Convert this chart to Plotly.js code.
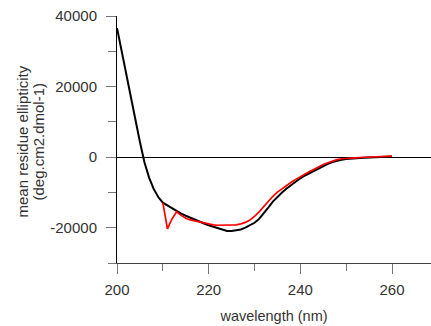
<!DOCTYPE html>
<html>
<head>
<meta charset="utf-8">
<script src="https://cdn.plot.ly/plotly-3.0.1.min.js"></script>
<style>html,body{margin:0;padding:0;background:#fff;}#chart{width:431px;height:326px;}</style>
</head>
<body>
<div id="chart"></div>
<script>
var wlBlack = [200,201,202,203,204,205,206,207,208,209,210,211,212,213,214,215,216,217,218,219,220,221,222,223,224,225,226,227,228,229,230,231,232,233,234,235,236,237,238,239,240,241,242,243,244,245,246,247,248,249,250,251,252,253,254,255,256,257,258,259,260];
var mreBlack = [36600,30000,23500,17200,10500,4300,-1500,-5800,-9000,-11300,-12900,-13700,-14600,-15300,-16000,-16600,-17200,-17700,-18300,-18800,-19300,-19700,-20200,-20600,-20900,-20900,-20800,-20500,-20000,-19400,-18600,-17500,-16000,-14300,-12600,-11200,-10000,-8900,-7900,-6900,-6000,-5200,-4500,-3800,-3100,-2500,-1900,-1400,-1000,-750,-550,-400,-300,-250,-200,-150,-100,-50,0,50,150];
var wlRed = [210,211,212,213,214,215,216,217,218,219,220,221,222,223,224,225,226,227,228,229,230,231,232,233,234,235,236,237,238,239,240,241,242,243,244,245,246,247,248,249,250,251,252,253,254,255,256,257,258,259,260];
var mreRed = [-12900,-20300,-17500,-15500,-16500,-17300,-17800,-18100,-18400,-18700,-19000,-19200,-19300,-19300,-19300,-19300,-19200,-18900,-18500,-17800,-16800,-15500,-14000,-12500,-11100,-9900,-8900,-8000,-7100,-6300,-5500,-4800,-4100,-3400,-2700,-2100,-1600,-1100,-700,-450,-300,-250,-200,-100,-50,0,50,100,150,200,300];

var xTickVals = [200,220,240,260];
var xTickText = ['200','220','240','260'];
var xMinorVals = [210,230,250];
var yTickVals = [-20000,0,20000,40000];
var yTickText = ['-20000','0','20000','40000'];
var yMinorVals = [-30000,-10000,10000,30000];
var yTitleLines = ['mean residue ellipticity', '(deg.cm2.dmol-1)'];

var fam = 'Liberation Sans, Arial, sans-serif';
var tickFont = {family: fam, size: 15, color: '#333'};
var titleFont = {family: fam, size: 14.5, color: '#333'};
var yTitleFont = {family: fam, size: 15, color: '#333'};

var traces = [
  {x: wlBlack, y: mreBlack, type: 'scatter', mode: 'lines', line: {color: '#000', width: 2}, hoverinfo: 'none'},
  {x: wlRed, y: mreRed, type: 'scatter', mode: 'lines', line: {color: '#ff0000', width: 1.7}, hoverinfo: 'none'}
];

var layout = {
  width: 431, height: 326,
  margin: {l: 117, r: 0, t: 16, b: 63},
  paper_bgcolor: '#fff', plot_bgcolor: '#fff',
  showlegend: false,
  font: tickFont,
  xaxis: {
    range: [200, 268.5], showgrid: false, zeroline: false,
    showline: true, linecolor: '#444', linewidth: 1,
    ticks: 'outside', ticklen: 10, tickcolor: '#777', tickwidth: 1,
    tickmode: 'array', tickvals: xTickVals, ticktext: xTickText,
    ticklabelstandoff: 3,
    minor: {tickvals: xMinorVals, ticks: 'outside', ticklen: 7, tickcolor: '#777', tickwidth: 1, showgrid: false},
    tickfont: tickFont,
    title: {text: 'wavelength (nm)', font: titleFont, standoff: 13}
  },
  yaxis: {
    range: [-30000, 40000], showgrid: false,
    zeroline: true, zerolinecolor: '#000', zerolinewidth: 1,
    showline: true, linecolor: '#000', linewidth: 1,
    ticks: 'outside', ticklen: 10, tickcolor: '#777', tickwidth: 1,
    tickmode: 'array', tickvals: yTickVals, ticktext: yTickText,
    ticklabelstandoff: 6,
    minor: {tickvals: yMinorVals, ticks: 'outside', ticklen: 8, tickcolor: '#777', tickwidth: 1, showgrid: false},
    tickfont: tickFont
  },
  annotations: [
    {text: yTitleLines[0], xref: 'paper', yref: 'paper', x: 0, y: 0.5, xanchor: 'center', yanchor: 'middle',
     xshift: -95, yshift: -2, textangle: -90, showarrow: false, font: yTitleFont},
    {text: yTitleLines[1], xref: 'paper', yref: 'paper', x: 0, y: 0.5, xanchor: 'center', yanchor: 'middle',
     xshift: -79, yshift: -2, textangle: -90, showarrow: false, font: yTitleFont}
  ]
};

Plotly.newPlot('chart', traces, layout, {staticPlot: true, displayModeBar: false});
</script>
</body>
</html>
